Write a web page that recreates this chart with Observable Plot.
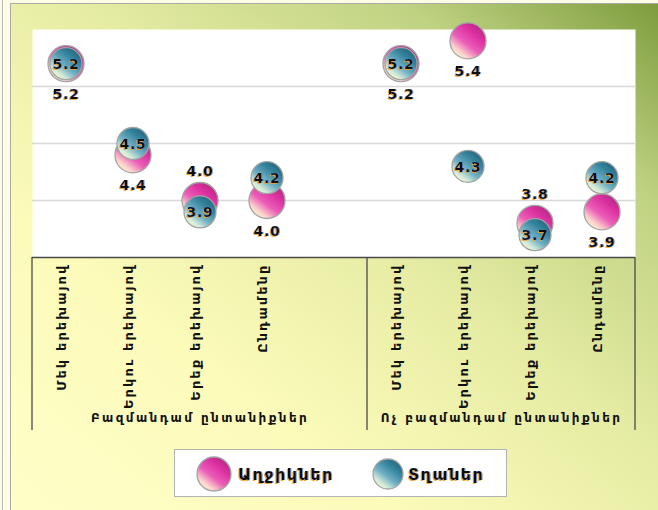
<!DOCTYPE html>
<html><head><meta charset="utf-8">
<script src="https://cdn.jsdelivr.net/npm/d3@7"></script>
<script src="https://cdn.jsdelivr.net/npm/@observablehq/plot@0.6"></script>
<style>
html,body{margin:0;padding:0;background:#fff;}
#wrap{position:relative;width:658px;height:510px;overflow:hidden;background:#fdfde6;font-family:"DejaVu Sans",sans-serif;}
#strip{position:absolute;left:2px;top:0;width:1px;height:510px;background:#b8b8b8}
#frame{position:absolute;left:10px;top:3px;width:660px;height:520px;border:1.5px solid #a9a9a9;box-sizing:border-box;
 background:linear-gradient(to top right,#fffec8 0%,#fcfbba 30%,#e6eca4 55%,#bfd282 80%,#7b9a3a 100%);}
#chart{position:absolute;left:0;top:0;}
#legend{position:absolute;left:174px;top:449px;width:333px;height:48px;background:#fff;border:1.5px solid #b3b3b3;box-sizing:border-box;}
#legend svg{position:absolute;left:0;top:0;}
</style>
</head><body>
<div id="wrap"><div id="strip"></div><div id="frame"></div><div id="chart"></div><div id="legend"></div></div>
<script>
// ---- data ----
const groups = ["Բազմանդամ ընտանիքներ", "Ոչ բազմանդամ ընտանիքներ"];
const categories = ["Մեկ երեխայով", "Երկու երեխայով", "Երեք երեխայով", "Ընդամենը"];
const seriesNames = ["Աղջիկներ", "Տղաներ"];
const girls = [5.2, 4.4, 4.0, 4.0, 5.2, 5.4, 3.8, 3.9];
const boys  = [5.2, 4.5, 3.9, 4.2, 5.2, 4.3, 3.7, 4.2];
const gridValues = [4.0, 4.5, 5.0];
const yDomain = [3.5, 5.5];

// ---- table ----
const per = categories.length + 1;           // slots per group incl. blank separator
const nSlots = groups.length * per - 1;       // 9
const rows = [];
groups.forEach((grp, g) => categories.forEach((cat, i) => {
  const k = g * categories.length + i;
  rows.push({slot: g * per + i + 0.5, cat, grp, ci: i, girl: girls[k], boy: boys[k]});
}));
const groupRows = groups.map((name, g) => {
  const a = g * per, b = Math.min((g + 1) * per, nSlots);
  return {name, mid: (a + b) / 2};
});

const plot = Plot.plot({
  width: 658, height: 440,
  marginLeft: 32, marginRight: 23, marginTop: 29, marginBottom: 183,
  style: {background: "transparent", fontFamily: "DejaVu Sans", overflow: "visible"},
  x: {domain: [0, nSlots], axis: null},
  y: {domain: yDomain, axis: null},
  marks: [
    Plot.frame({fill: "white", stroke: null}),
    Plot.ruleY(gridValues, {stroke: "#d8d8d8", strokeWidth: 1.5}),
    Plot.ruleY([yDomain[0]], {stroke: "#4a4a4a", strokeWidth: 1.5}),
    Plot.dot(rows, {x: "slot", y: "girl", r: 18, fill: "url(#gPink)", stroke: "#a3a3a3", strokeWidth: 1.3}),
    Plot.dot(rows, {x: "slot", y: "boy", r: 16, fill: "url(#gTeal)", stroke: "#a3a3a3", strokeWidth: 1.3}),
    // text marks, in this order: 3 value-label marks, category labels, group labels
    Plot.text(rows.filter(d => d.ci !== 2), {x: "slot", y: "girl", text: d => d.girl.toFixed(1), dy: 31,
      fontSize: 14, fontWeight: "bold", fill: "#111"}),
    Plot.text(rows.filter(d => d.ci === 2), {x: "slot", y: "girl", text: d => d.girl.toFixed(1), dy: -29,
      fontSize: 14, fontWeight: "bold", fill: "#111"}),
    Plot.text(rows, {x: "slot", y: "boy", text: d => d.boy.toFixed(1), dy: 1,
      fontSize: 14, fontWeight: "bold", fill: "#111"}),
    Plot.text(rows, {x: "slot", text: "cat", frameAnchor: "bottom", rotate: -90, textAnchor: "end", dy: 6,
      fontSize: 13, fontWeight: "bold", fill: "#111"}),
    Plot.text(groupRows, {x: "mid", text: "name", frameAnchor: "bottom", dy: 164,
      fontSize: 12, fontWeight: "bold", fill: "#111"})
  ]
});

const svg = d3.select(plot);
const defs = svg.insert("defs", ":first-child");
function grad(id, stops) {
  const lg = defs.append("linearGradient").attr("id", id)
    .attr("x1", "0.15").attr("y1", "0.95").attr("x2", "0.85").attr("y2", "0.05");
  stops.forEach(([o, c]) => lg.append("stop").attr("offset", o).attr("stop-color", c));
}
grad("gPink", [[0, "#fffbd0"], [0.18, "#fbd0cc"], [0.42, "#ec5db8"], [0.72, "#dd30a1"], [1, "#ae287f"]]);
grad("gTeal", [[0, "#fffcd6"], [0.18, "#d2ead8"], [0.42, "#6fb0c4"], [0.72, "#35849d"], [1, "#22627a"]]);

// coloured fringe filter for value labels (like the original text effect)
const f = defs.append("filter").attr("id", "fringe").attr("x", "-20%").attr("y", "-30%").attr("width", "140%").attr("height", "160%");
f.append("feOffset").attr("in", "SourceAlpha").attr("dx", -1).attr("dy", 1).attr("result", "o1");
f.append("feFlood").attr("flood-color", "#eaa232").attr("flood-opacity", 0.9).attr("result", "f1");
f.append("feComposite").attr("in", "f1").attr("in2", "o1").attr("operator", "in").attr("result", "c1");
f.append("feOffset").attr("in", "SourceAlpha").attr("dx", 1).attr("dy", -0.5).attr("result", "o2");
f.append("feFlood").attr("flood-color", "#4a7fd0").attr("flood-opacity", 0.7).attr("result", "f2");
f.append("feComposite").attr("in", "f2").attr("in2", "o2").attr("operator", "in").attr("result", "c2");
const fm = f.append("feMerge");
["c1", "c2", "SourceGraphic"].forEach(n => fm.append("feMergeNode").attr("in", n));

const textGroups = svg.selectAll('g[aria-label="text"]').nodes();
textGroups.slice(0, 3).forEach(n => d3.select(n).selectAll("text")
  .attr("filter", "url(#fringe)").style("letter-spacing", "0.8px"));
if (textGroups[3]) d3.select(textGroups[3]).selectAll("text").style("letter-spacing", "2.1px");
if (textGroups[4]) d3.select(textGroups[4]).selectAll("text").style("letter-spacing", "2.4px");

// multi-level axis box lines
const xs = plot.scale("x");
const gl = svg.append("g").attr("stroke", "#4a4a4a").attr("stroke-width", 1.3);
[0, per, nSlots].forEach(b => gl.append("line")
  .attr("x1", xs.apply(b)).attr("x2", xs.apply(b)).attr("y1", 257).attr("y2", 430));

document.getElementById("chart").appendChild(plot);

// legend
const lsvg = d3.select("#legend").append("svg").attr("width", 333).attr("height", 48);
const items = [{name: seriesNames[0], fill: "url(#gPink)", r: 17, cx: 39, tx: 63},
               {name: seriesNames[1], fill: "url(#gTeal)", r: 15, cx: 213, tx: 233}];
items.forEach(it => {
  lsvg.append("circle").attr("cx", it.cx).attr("cy", 24).attr("r", it.r)
    .attr("fill", it.fill).attr("stroke", "#a3a3a3").attr("stroke-width", 1.3);
  lsvg.append("text").attr("x", it.tx).attr("y", 30).text(it.name)
    .attr("font-family", "DejaVu Sans").attr("font-weight", "bold").attr("font-size", 16)
    .attr("fill", "#111").attr("filter", "url(#fringe)").style("letter-spacing", "1.5px");
});
</script>
</body></html>
